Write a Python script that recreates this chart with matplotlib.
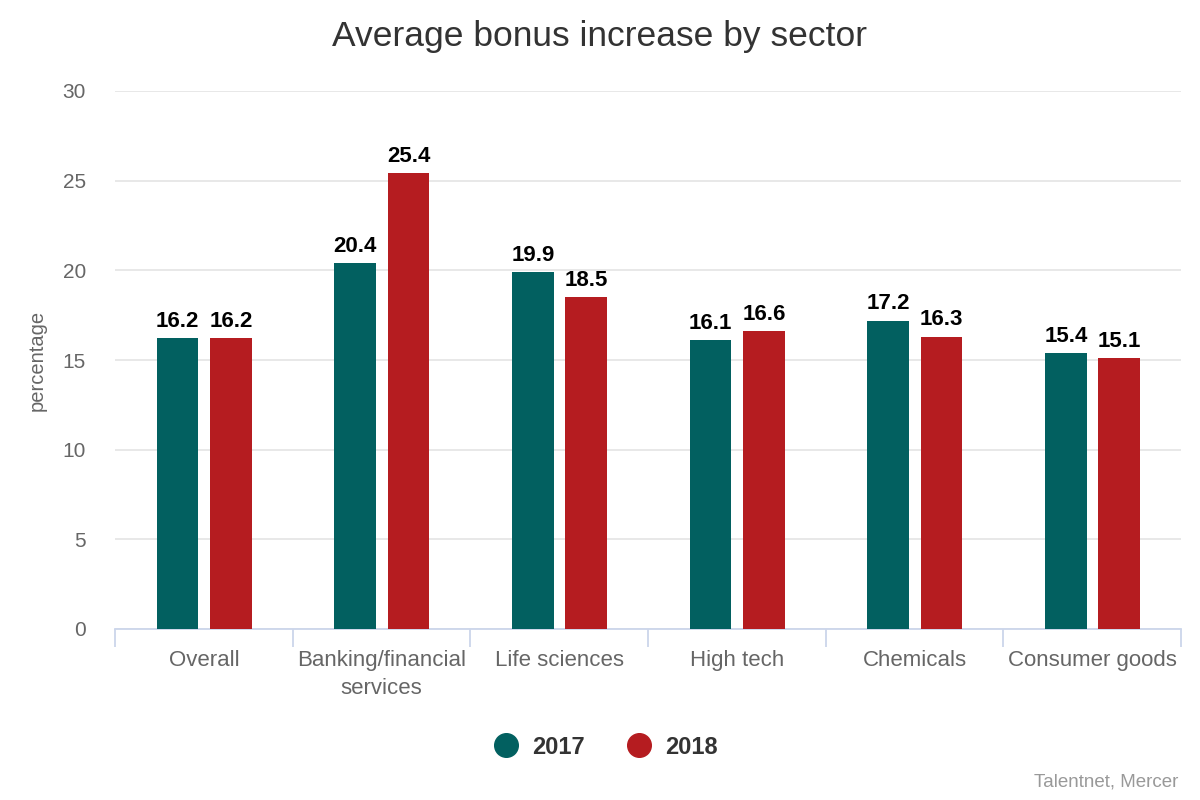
import matplotlib
matplotlib.use("Agg")
import matplotlib.pyplot as plt
import numpy as np
from matplotlib.lines import Line2D

plt.rcParams.update({"font.family": "Liberation Sans"})

sectors = ["Overall", "Banking/financial\nservices", "Life sciences",
           "High tech", "Chemicals", "Consumer goods"]
bonus_2017 = [16.2, 20.4, 19.9, 16.1, 17.2, 15.4]
bonus_2018 = [16.2, 25.4, 18.5, 16.6, 16.3, 15.1]
yticks = [0, 5, 10, 15, 20, 25, 30]

teal = "#026060"
red = "#b51c20"
grey_text = "#666666"

fig = plt.figure(figsize=(12, 8), dpi=100)
ax = fig.add_axes([115 / 1200, 171 / 800, 1066 / 1200, 538 / 800])

x = np.arange(len(sectors))
width = 0.235
b1 = ax.bar(x - 0.148, bonus_2017, width, color=teal, zorder=3)
b2 = ax.bar(x + 0.152, bonus_2018, width, color=red, zorder=3)

# value labels above each bar
for bars, vals in [(b1, bonus_2017), (b2, bonus_2018)]:
    for rect, v in zip(bars, vals):
        ax.annotate(f"{v:.1f}", (rect.get_x() + rect.get_width() / 2, v),
                    xytext=(0, 4.5), textcoords="offset points",
                    ha="center", va="bottom", fontsize=16,
                    fontweight="bold", color="black")

ax.set_xlim(-0.5, len(sectors) - 0.5)
ax.set_ylim(0, 30)
ax.set_yticks(yticks)
ax.yaxis.grid(True, color="#e6e6e6", linewidth=1.3, zorder=0)
for s in ["top", "right", "left"]:
    ax.spines[s].set_visible(False)
ax.spines["bottom"].set_color("#ccd6eb")
ax.spines["bottom"].set_linewidth(1.3)

ax.tick_params(axis="y", length=0, labelsize=15, labelcolor=grey_text, pad=21)
ax.set_xticks(x)
ax.set_xticklabels(sectors, fontsize=16, color=grey_text, linespacing=1.45)
ax.tick_params(axis="x", which="major", length=0, pad=15)
ax.set_xticks(np.arange(len(sectors) + 1) - 0.5, minor=True)
ax.tick_params(axis="x", which="minor", length=13, width=1.3, color="#ccd6eb")

ax.set_ylabel("percentage", fontsize=14.5, color=grey_text, labelpad=11)

fig.text(0.5, 0.954, "Average bonus increase by sector", ha="center",
         va="center", fontsize=25.5, color="#333333")

handles = [Line2D([], [], marker="o", linestyle="", markersize=17, color=teal),
           Line2D([], [], marker="o", linestyle="", markersize=17, color=red)]
leg = fig.legend(handles, ["2017", "2018"], loc="center",
                 bbox_to_anchor=(0.5, 0.066), ncol=2, frameon=False,
                 prop={"size": 17, "weight": "bold"}, handletextpad=0.1,
                 columnspacing=1.3)
for t in leg.get_texts():
    t.set_color("#333333")

fig.text(0.982, 0.022, "Talentnet, Mercer", ha="right", va="center",
         fontsize=13.5, color="#999999")

plt.savefig("out.png", dpi=100)
